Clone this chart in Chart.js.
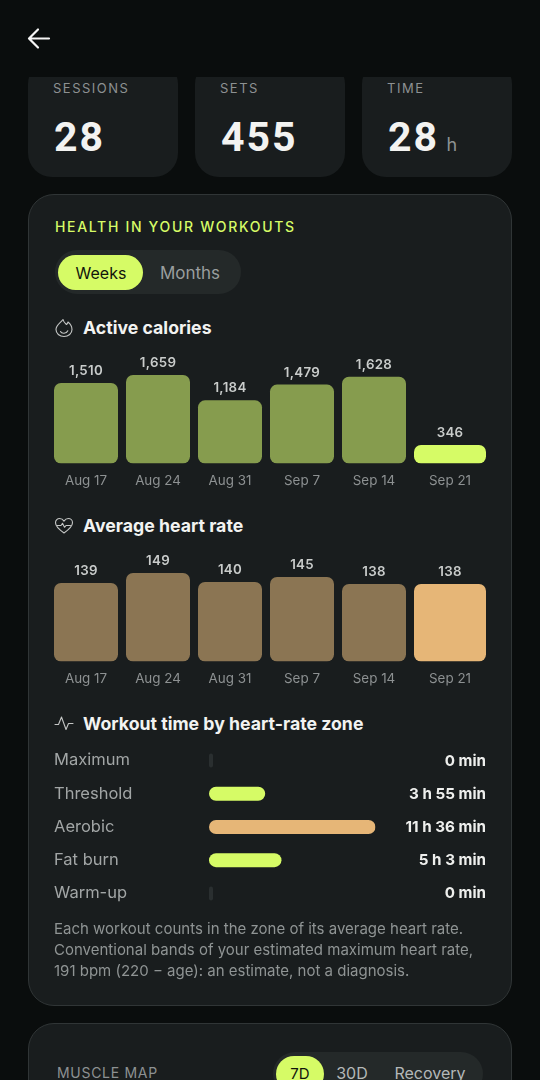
<!DOCTYPE html>
<html><head><meta charset="utf-8">
<script src="https://cdn.jsdelivr.net/npm/chart.js@4/dist/chart.umd.min.js"></script>
<style>
*{box-sizing:border-box;margin:0;padding:0}
html,body{width:540px;height:1080px;background:#0a0d0d;overflow:hidden;font-family:Inter,sans-serif}
.a{position:absolute;white-space:nowrap}
.stat{position:absolute;top:60px;width:150px;height:117px;background:#191d1e;border-radius:24px}
.clip{position:absolute;left:0;top:77px;width:540px;height:110px;overflow:hidden}
.clip .stat{top:-17px}
.card{position:absolute;left:28px;width:484px;background:#191d1e;border:1px solid #303536;border-radius:26px}
.lab{font-size:13px;letter-spacing:1.5px;color:#8d9192;font-weight:400;transform:translateY(-50%)}
.num{font-family:Roboto,sans-serif;font-weight:700;font-size:41px;letter-spacing:2px;color:#f3f3f1;transform:translateY(-50%)}
.head{font-size:17.7px;font-weight:700;color:#f2f3f1;transform:translateY(-50%)}
.seg{position:absolute;background:#242929;border-radius:22px}
.pill{position:absolute;background:#d6fb66;border-radius:18px}
.t{transform:translate(-50%,-50%);font-size:16px}
.note{font-size:15px;color:#8f9494;transform:translateY(-50%)}
canvas{position:absolute;display:block}
svg{position:absolute;fill:none}
</style></head><body>
<svg style="left:26px;top:26px" width="26" height="26" viewBox="0 0 26 26" stroke="#f5f5f5" stroke-width="2.2" stroke-linecap="round" stroke-linejoin="round"><path d="M23 12.500H3.500M12 3.500 3 12.500l9 9"/></svg>

<div class="clip">
 <div class="stat" style="left:28px"></div><div class="stat" style="left:195px"></div><div class="stat" style="left:362px"></div>
</div>
<div class="a lab" style="left:53px;top:88px">SESSIONS</div>
<div class="a lab" style="left:220px;top:88px">SETS</div>
<div class="a lab" style="left:387px;top:88px">TIME</div>
<div class="a num" style="left:54px;top:137px">28</div>
<div class="a num" style="left:221px;top:137px">455</div>
<div class="a num" style="left:388px;top:137px">28</div>
<div class="a" style="left:446.500px;top:134px;font-size:18px;color:#8d9192">h</div>

<div class="card" style="top:194px;height:812px"></div>
<div class="a" style="left:55px;top:226px;transform:translateY(-50%);font-size:14px;font-weight:500;letter-spacing:1.68px;color:#d6fb66">HEALTH IN YOUR WORKOUTS</div>
<div class="seg" style="left:55px;top:250px;width:186px;height:44px"></div>
<div class="pill" style="left:58px;top:255px;width:85px;height:35px"></div>
<div class="a t" style="left:101px;top:272.500px;color:#11140c">Weeks</div>
<div class="a t" style="left:190px;top:272.500px;color:#9a9e9e;font-size:17px">Months</div>

<svg style="left:54px;top:318px" width="20" height="20" viewBox="0 0 20 20" stroke="#c4c6c5" stroke-width="1.1" stroke-linecap="round" stroke-linejoin="round"><path d="M9 1.500C9.500 4 11.500 5.500 12.500 6.500 13.500 5.500 13.800 4.500 14 4 16.500 6 18 8.500 18 11.500 18 15.500 14.500 18.500 10 18.500 5.500 18.500 2 15.500 2 11.500 2 7 6.500 5 9 1.500Z"/><path d="M6.500 13.500C7.500 16 12.500 16 13.800 12.800"/></svg>
<div class="a head" style="left:83px;top:327px">Active calories</div>
<svg style="left:54px;top:516px" width="20" height="20" viewBox="0 0 20 20" stroke="#c4c6c5" stroke-width="1.1" stroke-linecap="round" stroke-linejoin="round"><path d="M10 17C6 14.200 1.500 11 1.500 6.800 1.500 4.200 3.500 2.500 5.600 2.500c1.900 0 3.400 1 4.400 2.600 1-1.600 2.500-2.600 4.400-2.600 2.100 0 4.100 1.700 4.100 4.300C18.500 11 14 14.200 10 17z"/><path d="M3 9.500h4l1.500-2.200 2 4 1.500-1.800h4.500"/></svg>
<div class="a head" style="left:83px;top:525px">Average heart rate</div>
<svg style="left:54px;top:714px" width="20" height="20" viewBox="0 0 20 20" stroke="#c4c6c5" stroke-width="1.1" stroke-linecap="round" stroke-linejoin="round"><path d="M1 10.500h3.500L7.500 3l4.500 12.500 2.500-6h4.500"/></svg>
<div class="a head" style="left:83px;top:723px">Workout time by heart-rate zone</div>

<canvas id="cal" width="440" height="140" style="left:50px;top:352px"></canvas>
<canvas id="hr" width="440" height="140" style="left:50px;top:550px"></canvas>
<canvas id="zones" width="432" height="186" style="left:54px;top:734px"></canvas>

<div class="a note" style="left:54px;top:928px">Each workout counts in the zone of its average heart rate.</div>
<div class="a note" style="left:54px;top:949px">Conventional bands of your estimated maximum heart rate,</div>
<div class="a note" style="left:54px;top:970px">191 bpm (220 − age): an estimate, not a diagnosis.</div>

<div class="card" style="top:1023px;height:120px"></div>
<div class="a lab" style="left:57px;top:1072px;font-size:14px;letter-spacing:.7px">MUSCLE MAP</div>
<div class="seg" style="left:273px;top:1052px;width:210px;height:44px"></div>
<div class="pill" style="left:276px;top:1056px;width:48px;height:36px"></div>
<div class="a t" style="left:300px;top:1073px;color:#11140c;font-size:15px">7D</div>
<div class="a t" style="left:352px;top:1073px;color:#b4b8b8;font-size:16px">30D</div>
<div class="a t" style="left:430px;top:1073px;color:#b4b8b8;font-size:16px">Recovery</div>

<script>
const weekLabels = ["Aug 17","Aug 24","Aug 31","Sep 7","Sep 14","Sep 21"];
const activeCalories = [1510,1659,1184,1479,1628,346];
const averageHeartRate = [139,149,140,145,138,138];
const zoneLabels = ["Maximum","Threshold","Aerobic","Fat burn","Warm-up"];
const zoneMinutes = [0,235,696,303,0];

const FONT = "Inter, sans-serif";
const LIME = "#d6fb66", OLIVE = "#869c4e", TAN = "#e6b677", BROWN = "#8b7553", STUB = "#2a2f30";

// Category scale with a wider slot for the current (last) week.
class WeekScale extends Chart.CategoryScale {
  static id = "weekScale";
  static defaults = Chart.CategoryScale.defaults;
  getPixelForValue(value) {
    if (typeof value !== "number") value = this.parse(value);
    if (value === null || value === undefined) return NaN;
    const n = this.getLabels().length, w = i => (i === n - 1 ? 10 : 9);
    let before = 0, total = 0;
    for (let i = 0; i < n; i++) { if (i < value) before += w(i); total += w(i); }
    return this.getPixelForDecimal((before + w(value) / 2) / total);
  }
}
Chart.register(WeekScale);

const valueLabels = {
  id: "valueLabels",
  afterDatasetsDraw(chart, _a, o) {
    const c = chart.ctx;
    c.save();
    c.font = "600 13.300px " + FONT; c.fillStyle = "#c9cccb"; c.textAlign = "center"; c.textBaseline = "middle";
    c.letterSpacing = "0.3px";
    chart.data.datasets.forEach((d, i) => chart.getDatasetMeta(i).data.forEach((el, j) => {
      if (d.data[j] != null) c.fillText(d.data[j].toLocaleString("en-US"), el.x, el.y - o.gap);
    }));
    c.restore();
  }
};

function weekChart(id, values, pastColor, nowColor, yMin) {
  const last = values.length - 1;
  const common = { grouped: false, base: yMin, borderRadius: 7, borderSkipped: false, inflateAmount: 0 };
  return new Chart(document.getElementById(id), {
    type: "bar",
    data: { labels: weekLabels, datasets: [
      { ...common, data: values.map((v, i) => i < last ? v : null), backgroundColor: pastColor, barThickness: 64 },
      { ...common, data: values.map((v, i) => i === last ? v : null), backgroundColor: nowColor, barThickness: 72 }
    ]},
    options: {
      responsive: false, animation: false, events: [],
      layout: { padding: { top: 23, left: 0, right: 0, bottom: 0 } },
      plugins: { legend: { display: false }, tooltip: { enabled: false }, valueLabels: { gap: 12 } },
      scales: {
        x: { type: "weekScale", grid: { display: false, drawTicks: false }, border: { display: false },
             afterFit(s) { s.height = 28.5; },
             ticks: { color: "#8d9192", font: { family: FONT, size: 13.4 }, padding: 9, maxRotation: 0, autoSkip: false } },
        y: { display: false, min: yMin, max: Math.max(...values) }
      }
    },
    plugins: [valueLabels]
  });
}
weekChart("cal", activeCalories, OLIVE, LIME, 0);
weekChart("hr", averageHeartRate, BROWN, TAN, 60.5);

const fmt = m => m === 0 ? "0 min" : Math.floor(m / 60) + " h " + (m % 60) + " min";
const zoneValues = {
  id: "zoneValues",
  afterDatasetsDraw(chart) {
    const c = chart.ctx;
    c.save();
    c.font = "700 15.2px " + FONT; c.fillStyle = "#eeefed"; c.textAlign = "right"; c.textBaseline = "middle";
    chart.getDatasetMeta(0).data.forEach((el, i) => c.fillText(fmt(zoneMinutes[i]), chart.width, el.y + 0.5));
    c.restore();
  }
};
new Chart(document.getElementById("zones"), {
  type: "bar",
  data: { labels: zoneLabels, datasets: [{
    data: zoneMinutes,
    backgroundColor: zoneMinutes.map(m => m === 0 ? STUB : m === Math.max(...zoneMinutes) ? TAN : LIME),
    barThickness: 14, minBarLength: 4, borderRadius: 7, borderSkipped: false, inflateAmount: 0
  }]},
  options: {
    indexAxis: "y", responsive: false, animation: false, events: [],
    layout: { padding: { top: 0.8, right: 110.5, bottom: 10, left: 0 } },
    plugins: { legend: { display: false }, tooltip: { enabled: false } },
    scales: {
      x: { display: false, min: 0, max: Math.max(...zoneMinutes) },
      y: { grid: { display: false, drawTicks: false }, border: { display: false },
           afterFit(s) { s.width = 155; },
           ticks: { color: "#a2a6a6", font: { family: FONT, size: 16.5 }, crossAlign: "far", padding: 0, autoSkip: false } }
    }
  },
  plugins: [zoneValues]
});
</script>
</body></html>
